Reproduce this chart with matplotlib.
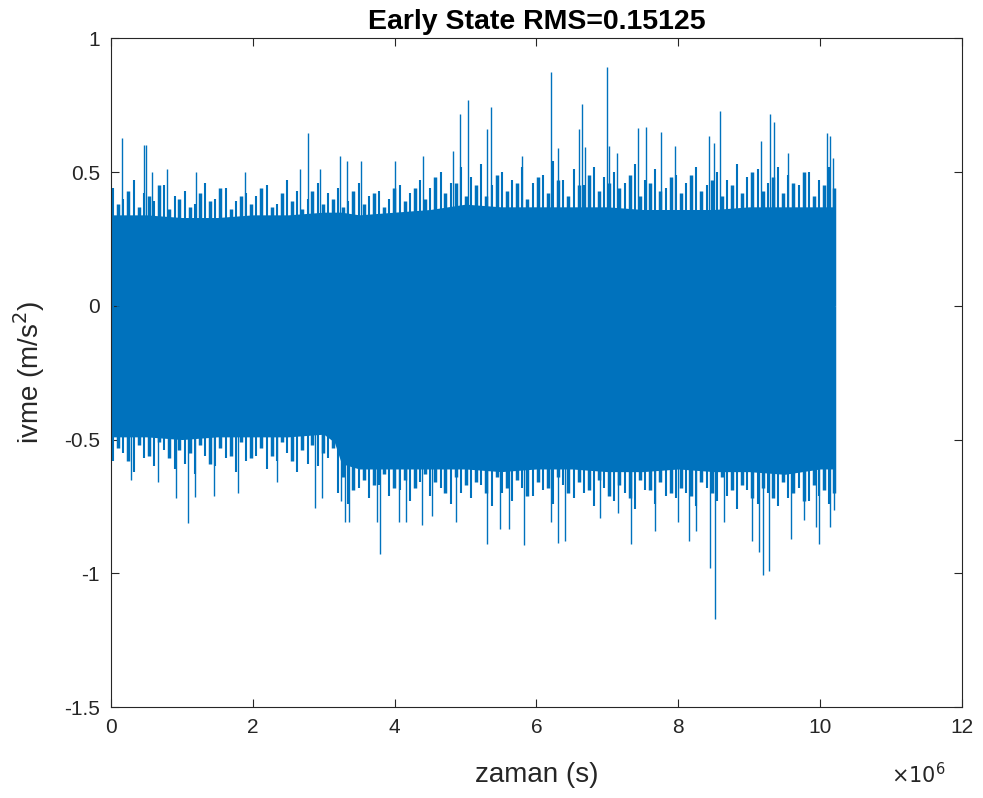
import matplotlib
matplotlib.use("Agg")
import matplotlib.pyplot as plt
import numpy as np

plt.rcParams['font.family'] = ['Liberation Sans', 'DejaVu Sans']

# dense core of the signal (x in units of 1e6 s)
core_x = [0, 0.5, 1, 1.5, 2, 2.5, 3, 3.15, 3.25, 3.5, 4, 4.5, 5, 5.5, 6, 6.5,
          7, 7.5, 8, 8.5, 9, 9.5, 10, 10.21]
core_hi = [0.34, 0.34, 0.33, 0.33, 0.34, 0.34, 0.35, 0.35, 0.35, 0.34, 0.35, 0.36,
           0.38, 0.37, 0.37, 0.37, 0.37, 0.36, 0.36, 0.36, 0.37, 0.37, 0.37, 0.37]
core_lo = [-0.49, -0.49, -0.50, -0.49, -0.49, -0.49, -0.48, -0.51, -0.59, -0.61, -0.61, -0.61,
           -0.61, -0.62, -0.61, -0.61, -0.62, -0.62, -0.61, -0.62, -0.62, -0.63, -0.61, -0.61]

# ragged edge of the band, two interleaved sets
tex_hi = [0.44, 0.40, 0.47, 0.42, 0.39, 0.45, 0.41,
          0.43, 0.38, 0.46, 0.40, 0.44, 0.39, 0.42,
          0.41, 0.45, 0.38, 0.47, 0.43, 0.40, 0.46,
          0.42, 0.44, 0.39, 0.46, 0.41, 0.43, 0.40,
          0.45, 0.42, 0.47, 0.44, 0.50, 0.46, 0.52,
          0.48, 0.53, 0.45, 0.50, 0.47, 0.52, 0.46,
          0.49, 0.54, 0.47, 0.51, 0.45, 0.52, 0.48,
          0.50, 0.46, 0.53, 0.47, 0.51, 0.44, 0.49,
          0.46, 0.52, 0.45, 0.50, 0.47, 0.53, 0.48,
          0.51, 0.46, 0.52, 0.49, 0.45, 0.50, 0.47,
          0.52]
tex_lo = [-0.58, -0.55, -0.62, -0.57, -0.60, -0.54, -0.61,
          -0.59, -0.63, -0.56, -0.60, -0.57, -0.62, -0.58,
          -0.56, -0.61, -0.58, -0.55, -0.62, -0.59, -0.60,
          -0.57, -0.70, -0.74, -0.68, -0.72, -0.67, -0.71,
          -0.69, -0.73, -0.66, -0.71, -0.68, -0.74, -0.70,
          -0.72, -0.67, -0.75, -0.70, -0.73, -0.68, -0.71,
          -0.69, -0.74, -0.67, -0.72, -0.70, -0.75, -0.68,
          -0.73, -0.70, -0.76, -0.69, -0.74, -0.71, -0.72,
          -0.70, -0.75, -0.68, -0.73, -0.71, -0.76, -0.69,
          -0.74, -0.70, -0.75, -0.72, -0.68, -0.73, -0.71,
          -0.74]
tex_hi2 = [0.38, 0.43, 0.37, 0.41, 0.45, 0.36, 0.40,
           0.37, 0.42, 0.39, 0.44, 0.36, 0.41, 0.38,
           0.44, 0.37, 0.42, 0.39, 0.36, 0.43, 0.38,
           0.40, 0.37, 0.43, 0.38, 0.42, 0.37, 0.44,
           0.39, 0.44, 0.40, 0.48, 0.42, 0.46, 0.41,
           0.45, 0.41, 0.49, 0.43, 0.46, 0.40, 0.48,
           0.42, 0.47, 0.41, 0.45, 0.49, 0.43, 0.46,
           0.44, 0.49, 0.41, 0.46, 0.43, 0.48, 0.42,
           0.49, 0.43, 0.47, 0.41, 0.45, 0.42, 0.50,
           0.43, 0.48, 0.42, 0.46, 0.50, 0.41, 0.45,
           0.44]
tex_lo2 = [-0.53, -0.58, -0.52, -0.56, -0.51, -0.57, -0.54,
           -0.55, -0.52, -0.59, -0.53, -0.56, -0.51, -0.57,
           -0.53, -0.56, -0.51, -0.58, -0.54, -0.52, -0.55,
           -0.53, -0.64, -0.69, -0.65, -0.67, -0.63, -0.68,
           -0.65, -0.68, -0.63, -0.66, -0.70, -0.64, -0.67,
           -0.66, -0.70, -0.64, -0.68, -0.65, -0.71, -0.66,
           -0.68, -0.64, -0.70, -0.66, -0.69, -0.65, -0.71,
           -0.67, -0.72, -0.65, -0.69, -0.66, -0.70, -0.68,
           -0.71, -0.66, -0.70, -0.64, -0.69, -0.67, -0.72,
           -0.68, -0.72, -0.66, -0.70, -0.73, -0.67, -0.69,
           -0.70]

# isolated peaks
up_x = [0.155, 0.46, 0.49, 0.574, 0.785, 1.2, 1.89, 2.67, 2.78, 2.95, 3.23, 3.33, 3.52, 4.0,
        4.40, 4.82, 4.92, 5.03, 5.30, 5.36, 5.80, 6.21, 6.30, 6.60, 6.64, 6.68, 6.99, 7.02,
        7.13, 7.43, 7.55, 7.76, 7.96, 8.43, 8.51, 8.59, 9.17, 9.29, 9.35, 9.54, 10.09, 10.14, 10.18]
up_y = [0.626, 0.60, 0.60, 0.50, 0.51, 0.50, 0.50, 0.51, 0.645, 0.51, 0.56, 0.54, 0.54, 0.54,
        0.56, 0.58, 0.716, 0.77, 0.66, 0.745, 0.56, 0.874, 0.59, 0.66, 0.753, 0.594, 0.893, 0.598,
        0.571, 0.665, 0.668, 0.65, 0.598, 0.634, 0.61, 0.728, 0.616, 0.716, 0.687, 0.571, 0.646, 0.634, 0.553]
lo_x = [0.28, 0.66, 0.91, 1.09, 1.19, 1.45, 1.79, 2.34, 2.88, 2.97, 3.24, 3.30, 3.35, 3.75,
        3.80, 4.06, 4.16, 4.39, 4.52, 4.86, 5.30, 5.49, 5.61, 5.83, 6.21, 6.31, 6.40, 6.90,
        7.15, 7.33, 7.67, 7.99, 8.15, 8.25, 8.44, 8.52, 8.65, 9.04, 9.14, 9.19, 9.28, 9.59,
        9.77, 9.94, 9.99, 10.14, 10.19]
lo_y = [-0.65, -0.66, -0.72, -0.811, -0.716, -0.71, -0.70, -0.66, -0.755, -0.72, -0.73, -0.81,
        -0.81, -0.81, -0.928, -0.81, -0.81, -0.82, -0.786, -0.81, -0.89, -0.836, -0.836, -0.895,
        -0.81, -0.886, -0.88, -0.792, -0.776, -0.891, -0.841, -0.81, -0.878, -0.842, -0.982,
        -1.171, -0.81, -0.88, -0.92, -1.007, -0.992, -0.873, -0.80, -0.826, -0.891, -0.826, -0.764]

xticks = [0, 2, 4, 6, 8, 10, 12]
yticks = [1, 0.5, 0, -0.5, -1, -1.5]
ytick_labels = ['1', '0.5', '0', '-0.5', '-1', '-1.5']

col = '#0072BD'
txt = '#262626'

fig = plt.figure(figsize=(9.83, 7.98), dpi=100)
ax = fig.add_axes([0.1129, 0.114, 0.8657, 0.838])

ax.fill_between(core_x, core_lo, core_hi, color=col, lw=0)
tex_x = np.linspace(0.03, 10.13, len(tex_hi))
tex_x2 = np.linspace(0.10, 10.20, len(tex_hi2))
ax.vlines(tex_x, 0, tex_hi, color=col, lw=1.5)
ax.vlines(tex_x, tex_lo, 0, color=col, lw=1.5)
ax.vlines(tex_x2, 0, tex_hi2, color=col, lw=2.5)
ax.vlines(tex_x2, tex_lo2, 0, color=col, lw=2.5)
ax.vlines(up_x, 0, up_y, color=col, lw=1.0)
ax.vlines(lo_x, lo_y, 0, color=col, lw=1.0)

ax.set_xlim(0, 12)
ax.set_ylim(-1.5, 1)
ax.set_xticks(xticks)
ax.set_xticklabels([str(t) for t in xticks])
ax.set_yticks(yticks)
ax.set_yticklabels(ytick_labels)
ax.tick_params(direction='in', top=True, right=True, length=6, width=0.8,
               labelsize=15, colors=txt, pad=8)
for s in ax.spines.values():
    s.set_color(txt)
    s.set_linewidth(0.8)

ax.set_title('Early State RMS=0.15125', fontsize=20.5, fontweight='bold', color='black', pad=7)
ax.set_xlabel('zaman (s)', fontsize=20, color=txt, labelpad=18)
ax.set_ylabel('ivme (m/s$^2$)', fontsize=20, color=txt, labelpad=12)
fig.text(0.962, 0.019, r'$\times10^{6}$', fontsize=15, color=txt, ha='right', va='baseline')

fig.savefig('out.png', dpi=100)
